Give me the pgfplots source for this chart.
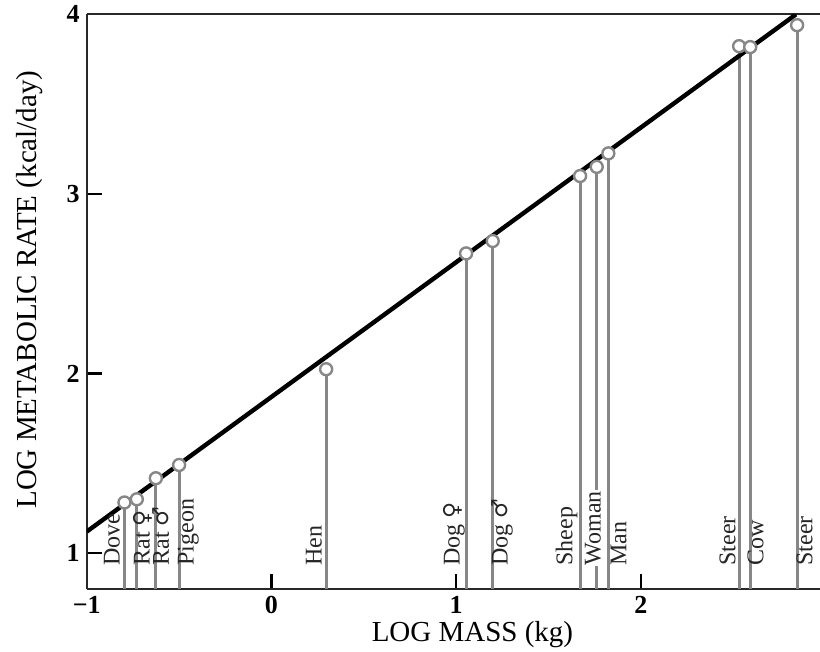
\documentclass[border=0pt]{standalone}
\usepackage{fontspec}
\setmainfont{Liberation Serif}
\newfontfamily\symfont{DejaVu Sans}
\usepackage{pgfplots}
\pgfplotsset{compat=1.18}
\usepackage{pgfplotstable}

\definecolor{stemgray}{RGB}{135,135,135}
\definecolor{axisgray}{RGB}{40,40,40}
\newcommand{\fem}{{\symfont\fontsize{11}{13}\selectfont ♀}}
\newcommand{\mal}{{\symfont\fontsize{11}{13}\selectfont ♂}}

% log mass (kg), log metabolic rate (kcal/day)
\pgfplotstableread{
x      y
-0.796 1.282
-0.729 1.300
-0.626 1.417
-0.500 1.491
0.296  2.024
1.054  2.669
1.198  2.738
1.671  3.100
1.761  3.151
1.824  3.226
2.532  3.823
2.592  3.818
2.846  3.940
}\animals

\begin{document}
\begin{tikzpicture}
\begin{axis}[
    scale only axis,
    width=366.7pt,
    height=287.4pt,
    xmin=-1, xmax=2.97,
    ymin=0.8, ymax=4,
    axis x line*=box,
    axis y line*=left,
    axis line style={-, draw=axisgray, line width=1pt},
    xtick={-1,0,1,2},
    xticklabels={−1,0,1,2},
    ytick={1,2,3,4},
    xtick pos=bottom,
    ytick pos=left,
    tick align=inside,
    major tick length=7.5pt,
    tick style={black, line width=1.1pt},
    /pgf/number format/assume math mode=true,
    ticklabel style={font=\fontsize{13}{15}\selectfont\bfseries},
    xlabel={LOG MASS (kg)},
    ylabel={LOG METABOLIC RATE (kcal/day)},
    label style={font=\fontsize{14.5}{17}\selectfont},
    xlabel style={at={(axis description cs:0.526,-0.0797)}, anchor=center},
    ylabel style={at={(axis description cs:-0.0775,0.521)}, anchor=center},
]

% stems down to the mass axis
\addplot[ycomb, stemgray, line width=1.5pt, mark=none] table[x=x, y=y] {\animals};

% fitted line
\addplot[black, line width=2.2pt] coordinates {(-1,1.12) (2.84,4.0)};

% data circles
\addplot[only marks, mark=*, mark size=3pt,
    mark options={fill=white, draw=stemgray, line width=1.2pt}]
    table[x=x, y=y] {\animals};

\begin{scope}[every node/.style={rotate=90, anchor=mid west, inner sep=0.5pt,
    font=\fontsize{12}{14}\selectfont, text=black!85}]
\node at (axis cs:-0.847,0.924) {Dove};
\node at (axis cs:-0.684,0.924) {Rat \fem};
\node at (axis cs:-0.581,0.924) {Rat \mal};
\node at (axis cs:-0.446,0.924) {Pigeon};
\node at (axis cs:0.247,0.924) {Hen};
\node at (axis cs:0.994,0.924) {Dog \fem};
\node at (axis cs:1.254,0.924) {Dog \mal};
\node at (axis cs:1.604,0.924) {Sheep};
\node[fill=white] at (axis cs:1.757,0.924) {Woman};
\node at (axis cs:1.897,0.924) {Man};
\node at (axis cs:2.487,0.924) {Steer};
\node at (axis cs:2.638,0.924) {Cow};
\node at (axis cs:2.904,0.924) {Steer};
\end{scope}

\coordinate (ll) at (rel axis cs:0,0);
\coordinate (ur) at (rel axis cs:1,1);
\end{axis}
\pgfresetboundingbox
\path ([xshift=-43.4pt,yshift=-31.4pt]ll) rectangle ([yshift=7.2pt]ur);
\end{tikzpicture}
\end{document}
